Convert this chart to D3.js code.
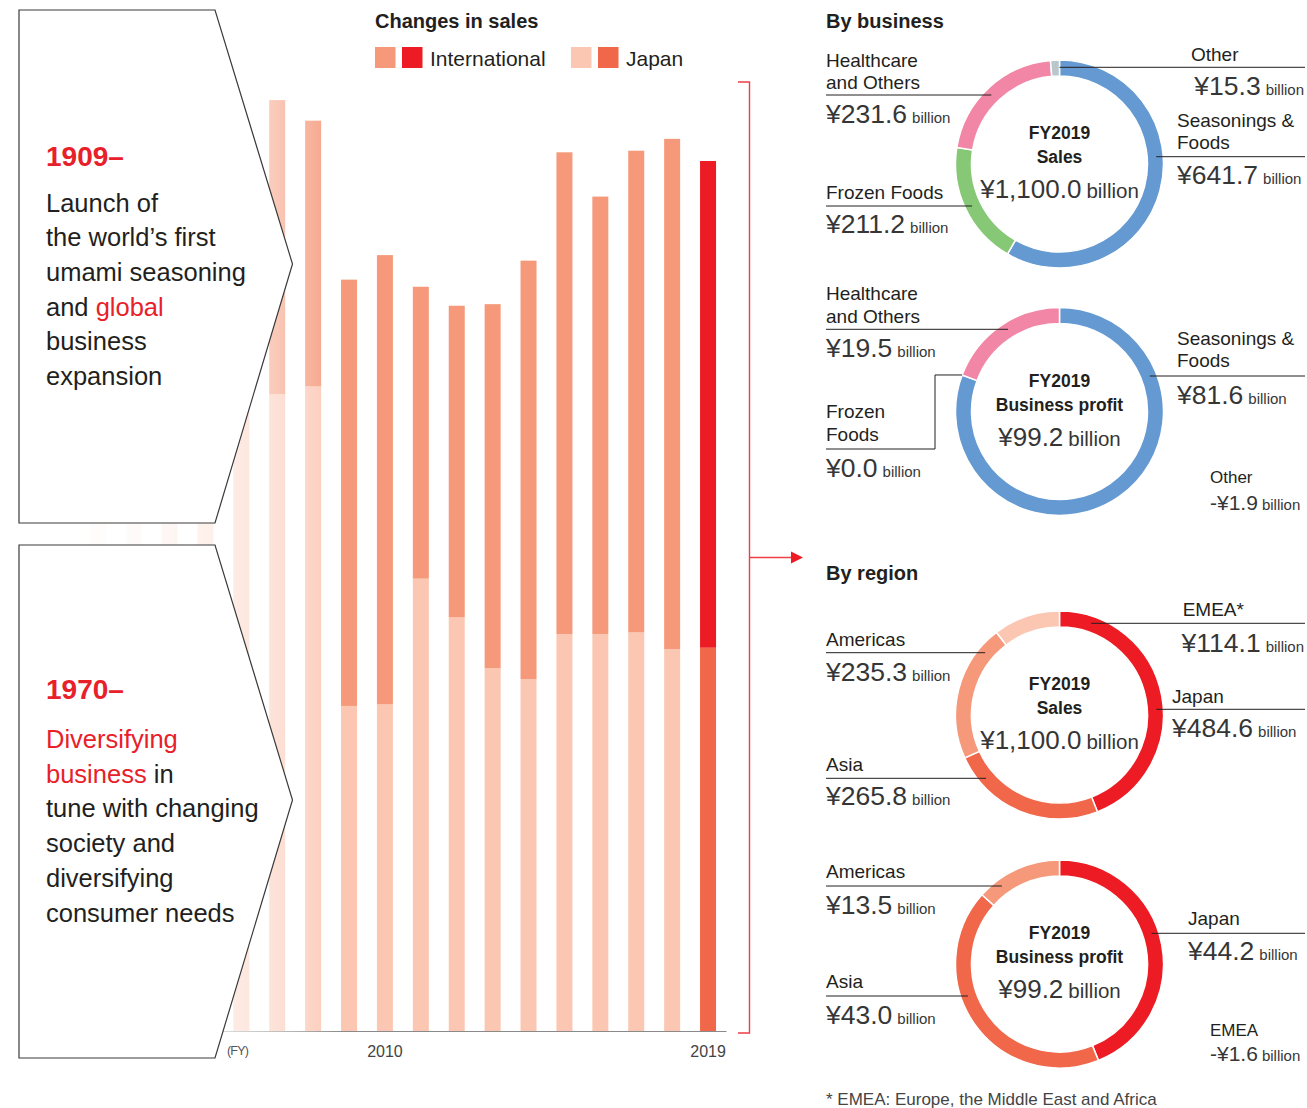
<!DOCTYPE html>
<html><head><meta charset="utf-8">
<script src="https://cdn.jsdelivr.net/npm/d3@7"></script>
<style>
html,body{margin:0;padding:0;background:#fff;}
svg{display:block;font-family:"Liberation Sans",Arial,Helvetica,sans-serif;}
</style></head><body>
<svg id="c" width="1307" height="1108"></svg>
<script>
// ---------------- DATA ----------------
const years = [2002,2003,2004,2005,2006,2007,2008,2009,2010,2011,2012,2013,2014,2015,2016,2017,2018,2019];
const salesJapan =         [800, 800, 810, 810, 800, 805, 815, 411, 413, 572, 523, 459, 445, 502, 502, 504, 483, 484.6];
const salesInternational = [270, 300, 310, 340, 340, 372, 336, 539, 568, 369, 394, 460, 529, 609, 553, 609, 645, 615.4];
const tickYears = [2010, 2019];
const highlightYear = 2019;
const legendItems = ["International", "Japan"];

const businessCategories = ["Seasonings & Foods", "Frozen Foods", "Healthcare and Others", "Other"];
const businessSales  = [641.7, 211.2, 231.6, 15.3];
const businessProfit = [81.6, 0.0, 19.5, -1.9];
const regionCategories = ["Japan", "Asia", "Americas", "EMEA"];
const regionSales  = [484.6, 265.8, 235.3, 114.1];
const regionProfit = [44.2, 43.0, 13.5, -1.6];
const salesTotal = 1100.0;
const profitTotal = 99.2;

// ---------------- STYLE ----------------
const C = {
  intl: "#F5997A", intlHi: "#ED1C24",
  japan: "#FBC7B3", japanHi: "#F0674A",
  red: "#E8202A", text: "#231F20", value: "#363636",
  business: ["#6499D2", "#86C876", "#F286A6", "#B9C6CC"],
  region: ["#ED1C24", "#F0674A", "#F5997A", "#FBC7B3"]
};
const svg = d3.select("#c");
const fmt = v => (v < 0 ? "-" : "") + "\u00A5" + d3.format(",.1f")(Math.abs(v));

// ---------------- BAR CHART ----------------
const table = years.map((yr, i) => ({year: yr, japan: salesJapan[i], intl: salesInternational[i]}));
const stack = d3.stack().keys(["japan", "intl"])(table);
const x = d3.scaleBand().domain(years).range([79.75, 726])
  .paddingInner(1 - 16 / 35.9).paddingOuter((1 - 16 / 35.9) / 2);
const y = d3.scaleLinear().domain([0, 1100]).range([1031, 161]);

const colorFor = (key, yr) => key === "japan"
  ? (yr === highlightYear ? C.japanHi : C.japan)
  : (yr === highlightYear ? C.intlHi : C.intl);

const barsG = svg.append("g");
stack.forEach(layer => {
  barsG.selectAll(null).data(layer).join("rect")
    .attr("x", d => x(d.data.year))
    .attr("width", x.bandwidth())
    .attr("y", d => y(d[1]))
    .attr("height", d => y(d[0]) - y(d[1]))
    .attr("fill", d => colorFor(layer.key, d.data.year));
});

// axis line
const axisLine = svg.append("g").attr("transform", "translate(0,1031)")
  .call(d3.axisBottom(x).tickValues([]).tickSizeOuter(0));
axisLine.select(".domain").attr("stroke", "#8a8a8a").attr("stroke-width", 1.2);

// fade overlay (white to transparent from left)
const defs = svg.append("defs");
const grad = defs.append("linearGradient").attr("id", "fade")
  .attr("gradientUnits", "userSpaceOnUse").attr("x1", 60).attr("x2", 345).attr("y1", 0).attr("y2", 0);
[[60,1],[93,0.96],[131,0.92],[167,0.86],[203,0.76],[240,0.62],[276,0.47],[312,0.24],[340,0.02],[345,0]]
  .forEach(([px, a]) => grad.append("stop").attr("offset", (px - 60) / 285).attr("stop-color", "#fff").attr("stop-opacity", a));
svg.append("rect").attr("x", 0).attr("y", 0).attr("width", 346).attr("height", 1040).attr("fill", "url(#fade)");

// tick labels
const axisLabels = svg.append("g").attr("transform", "translate(0,1031)")
  .call(d3.axisBottom(x).tickValues(tickYears).tickSize(0).tickPadding(15));
axisLabels.select(".domain").remove();
axisLabels.selectAll("text").attr("font-size", 16).attr("fill", "#444")
  .attr("font-family", '"Liberation Sans",Arial,sans-serif');
svg.append("text").attr("x", 227).attr("y", 1055).attr("font-size", 12.5).attr("fill", "#555")
  .attr("letter-spacing", -0.8).text("(FY)");

// ---------------- ARROW BOXES ----------------
const boxes = [
  {pts: [[19,10],[215,10],[292.5,264],[215,523],[19,523]], title: "1909\u2013", ty: 166,
   lines: [[["Launch of", 0]], [["the world\u2019s first", 0]], [["umami seasoning", 0]],
           [["and ", 0], ["global", 1]], [["business", 0]], [["expansion", 0]]], ly: 211.5},
  {pts: [[19,545],[215,545],[292.5,800],[215,1058],[19,1058]], title: "1970\u2013", ty: 699,
   lines: [[["Diversifying", 1]], [["business", 1], [" in", 0]], [["tune with changing", 0]],
           [["society and", 0]], [["diversifying", 0]], [["consumer needs", 0]]], ly: 748}
];
boxes.forEach(b => {
  svg.append("polygon").attr("points", b.pts.map(p => p.join(",")).join(" "))
    .attr("fill", "#fff").attr("stroke", "#3a3a3a").attr("stroke-width", 1.2);
  svg.append("text").attr("x", 46).attr("y", b.ty).attr("font-size", 28).attr("font-weight", "bold")
    .attr("fill", C.red).text(b.title);
  b.lines.forEach((ln, i) => {
    const t = svg.append("text").attr("x", 46).attr("y", b.ly + i * 34.7).attr("font-size", 25.5);
    ln.forEach(([s, hi]) => t.append("tspan").attr("fill", hi ? C.red : C.text).text(s));
  });
});

// ---------------- BRACKET & ARROW ----------------
svg.append("path").attr("d", "M738,82H749.5V1033H738").attr("fill", "none")
  .attr("stroke", "#EE3E45").attr("stroke-width", 1.4);
svg.append("path").attr("d", "M749.5,557.5H792").attr("stroke", "#EE3E45").attr("stroke-width", 1.4);
svg.append("path").attr("d", "M791,551.5L803,557.5L791,563.5Z").attr("fill", "#ED1C24");

// ---------------- TITLES & LEGEND ----------------
svg.append("text").attr("x", 375).attr("y", 28).attr("font-size", 20).attr("font-weight", "bold")
  .attr("fill", C.text).text("Changes in sales");
const legendSw = [[C.intl, C.intlHi], [C.japan, C.japanHi]];
const legendX = [375, 571];
legendItems.forEach((name, i) => {
  legendSw[i].forEach((col, j) => svg.append("rect").attr("x", legendX[i] + j * 27).attr("y", 47)
    .attr("width", 20.5).attr("height", 21).attr("fill", col));
  svg.append("text").attr("x", legendX[i] + 55).attr("y", 66).attr("font-size", 21)
    .attr("fill", C.text).text(name);
});
svg.append("text").attr("x", 826).attr("y", 28).attr("font-size", 20).attr("font-weight", "bold")
  .attr("fill", C.text).text("By business");
svg.append("text").attr("x", 826).attr("y", 580).attr("font-size", 20).attr("font-weight", "bold")
  .attr("fill", C.text).text("By region");
svg.append("text").attr("x", 826).attr("y", 1105).attr("font-size", 17).attr("fill", "#444")
  .text("* EMEA: Europe, the Middle East and Africa");

// ---------------- DONUTS ----------------
const rOut = 104, rIn = 88, rRule = 97;
const pie = d3.pie().sort(null).value(d => Math.max(0, d.v)).startAngle(0).endAngle(2 * Math.PI);
const arc = d3.arc().innerRadius(rIn).outerRadius(rOut);

function valueText(g, xx, yy, v, anchor, numSize, unitSize, gap) {
  const t = g.append("text").attr("x", xx).attr("y", yy).attr("text-anchor", anchor).attr("fill", C.value);
  t.append("tspan").attr("font-size", numSize).text(fmt(v));
  t.append("tspan").attr("font-size", unitSize).attr("dx", gap).text("billion");
}

function donut(cx, cy, cats, vals, colors, title, total, layout) {
  const g = svg.append("g");
  const data = cats.map((c, i) => ({c, v: vals[i], col: colors[i]}));
  const arcs = pie(data);
  g.append("g").attr("transform", `translate(${cx},${cy})`)
    .selectAll("path").data(arcs.filter(a => a.endAngle > a.startAngle)).join("path")
    .attr("d", arc).attr("fill", a => a.data.col).attr("stroke", "#fff").attr("stroke-width", 1.5);
  // centre
  g.append("text").attr("x", cx).attr("y", cy - 25).attr("text-anchor", "middle").attr("font-size", 17.5)
    .attr("font-weight", "bold").attr("fill", C.text).text("FY2019");
  g.append("text").attr("x", cx).attr("y", cy - 1).attr("text-anchor", "middle").attr("font-size", 17.5)
    .attr("font-weight", "bold").attr("fill", C.text).text(title);
  valueText(g, cx, cy + 34, total, "middle", 26, 20.5, 5);
  // labels
  layout.forEach((L, i) => {
    const a = arcs[i];
    const small = !!L.small;
    L.lines.forEach((s, k) => g.append("text").attr("x", L.x).attr("y", L.ly[k])
      .attr("font-size", small ? 17 : 19).attr("fill", C.text).text(s));
    if (L.rule !== undefined) {
      const dy = L.rule - cy;
      const dx = Math.sqrt(Math.max(0, rRule * rRule - dy * dy));
      const xs = L.side === "left" ? [826, cx - dx] : [cx + (L.top ? 0 : dx), 1305];
      g.append("line").attr("x1", xs[0]).attr("x2", xs[1]).attr("y1", L.rule).attr("y2", L.rule)
        .attr("stroke", "#231F20").attr("stroke-width", 1);
    }
    if (L.elbow) {
      const px = cx + rOut * Math.sin(a.startAngle), py = cy - rOut * Math.cos(a.startAngle);
      g.append("path").attr("d", `M826,${L.elbow.y}H${L.elbow.x}V${py}H${px}`)
        .attr("fill", "none").attr("stroke", "#231F20").attr("stroke-width", 1);
    }
    if (small) valueText(g, L.x, L.vy, vals[i], "start", 21, 15, 4);
    else valueText(g, L.vx !== undefined ? L.vx : L.x, L.vy, vals[i], L.anchor || "start", 26.5, 15, 5);
  });
}

donut(1059.5, 164, businessCategories, businessSales, C.business, "Sales", salesTotal, [
  {lines: ["Seasonings &", "Foods"], x: 1177, ly: [127, 149], rule: 156.7, side: "right", vy: 184},
  {lines: ["Frozen Foods"], x: 826, ly: [199], rule: 206, side: "left", vy: 233},
  {lines: ["Healthcare", "and Others"], x: 826, ly: [66.7, 88.5], rule: 95, side: "left", vy: 123},
  {lines: ["Other"], x: 1191, ly: [60.7], rule: 67.3, side: "right", top: true, vy: 95, vx: 1304, anchor: "end"}
]);
donut(1059.5, 411.5, businessCategories, businessProfit, C.business, "Business profit", profitTotal, [
  {lines: ["Seasonings &", "Foods"], x: 1177, ly: [345, 367], rule: 376, side: "right", vy: 404},
  {lines: ["Frozen", "Foods"], x: 826, ly: [418, 440.7], elbow: {y: 449, x: 935}, vy: 476.7},
  {lines: ["Healthcare", "and Others"], x: 826, ly: [300, 322.7], rule: 329.3, side: "left", vy: 357},
  {lines: ["Other"], x: 1210, ly: [482.7], small: true, vy: 510}
]);
donut(1059.5, 715, regionCategories, regionSales, C.region, "Sales", salesTotal, [
  {lines: ["Japan"], x: 1172, ly: [703.3], rule: 709.3, side: "right", vy: 737},
  {lines: ["Asia"], x: 826, ly: [770.7], rule: 778.3, side: "left", vy: 805},
  {lines: ["Americas"], x: 826, ly: [646], rule: 652.7, side: "left", vy: 680.7},
  {lines: ["EMEA*"], x: 1182.7, ly: [616], rule: 623.3, side: "right", vy: 651.7, vx: 1304, anchor: "end"}
]);
donut(1059.5, 964, regionCategories, regionProfit, C.region, "Business profit", profitTotal, [
  {lines: ["Japan"], x: 1188, ly: [925], rule: 933.3, side: "right", vy: 960},
  {lines: ["Asia"], x: 826, ly: [987.7], rule: 996, side: "left", vy: 1024},
  {lines: ["Americas"], x: 826, ly: [878.3], rule: 886, side: "left", vy: 914},
  {lines: ["EMEA"], x: 1210, ly: [1035.7], small: true, vy: 1060.7}
]);
</script>
</body></html>
